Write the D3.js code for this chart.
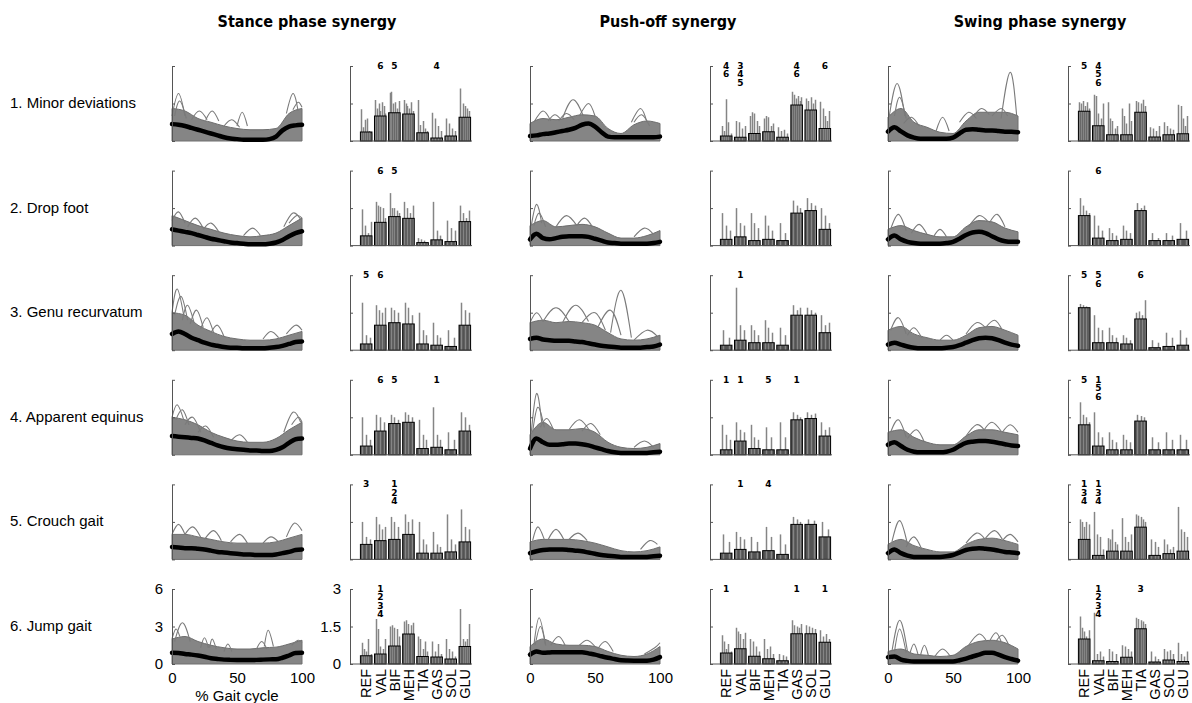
<!DOCTYPE html>
<html>
<head>
<meta charset="utf-8">
<script src="https://cdn.jsdelivr.net/npm/d3@7"></script>
<style>
  body { margin: 0; background: #fff; }
  svg { display: block; }
</style>
</head>
<body>
<svg id="chart" width="1192" height="703"></svg>
<script>
// ---- labels ----
var synergies = ["Stance phase synergy", "Push-off synergy", "Swing phase synergy"];
var rowNames = ["1. Minor deviations", "2. Drop foot", "3. Genu recurvatum",
                "4. Apparent equinus", "5. Crouch gait", "6. Jump gait"];
var muscles = ["REF", "VAL", "BIF", "MEH", "TIA", "GAS", "SOL", "GLU"];
var pctTicks = [0, 50, 100];
var lineTicks = [0, 3, 6];
var barTicks = [0, 1.5, 3];

// x positions (% gait cycle) of the mean curves and of the band envelope
var meanPct = [0,5,10,15,20,25,30,35,40,45,50,55,60,65,70,75,80,85,90,95,100];
var bandPct = [0,10,20,30,40,50,60,70,80,90,100];

// ---- mean activation curves (black), one per row ----
var stanceMean = [
  [1.35,1.3,1.2,1.05,0.9,0.75,0.6,0.45,0.3,0.2,0.15,0.1,0.1,0.1,0.1,0.15,0.35,0.85,1.15,1.25,1.3],
  [1.3,1.2,1.1,1.0,0.85,0.7,0.55,0.45,0.35,0.25,0.2,0.15,0.1,0.1,0.1,0.15,0.25,0.45,0.75,1.0,1.15],
  [1.3,1.5,1.3,1.0,0.8,0.6,0.45,0.35,0.25,0.2,0.2,0.15,0.15,0.15,0.15,0.2,0.25,0.35,0.5,0.65,0.7],
  [1.5,1.45,1.4,1.35,1.3,1.15,0.95,0.75,0.6,0.5,0.45,0.4,0.35,0.35,0.3,0.3,0.4,0.6,0.95,1.25,1.3],
  [1.0,0.95,0.9,0.9,0.85,0.8,0.7,0.6,0.55,0.5,0.45,0.4,0.4,0.35,0.35,0.35,0.4,0.5,0.6,0.75,0.8],
  [0.9,0.88,0.8,0.75,0.68,0.58,0.46,0.4,0.35,0.33,0.32,0.32,0.32,0.33,0.35,0.37,0.38,0.5,0.68,0.88,0.9]
];
var pushMean = [
  [0.4,0.45,0.55,0.6,0.7,0.8,0.9,1.05,1.3,1.4,1.15,0.7,0.35,0.3,0.3,0.3,0.3,0.3,0.3,0.3,0.35],
  [0.5,0.95,0.6,0.5,0.6,0.7,0.75,0.75,0.75,0.7,0.55,0.4,0.25,0.2,0.15,0.15,0.15,0.15,0.15,0.2,0.3],
  [0.9,1.0,0.85,0.8,0.75,0.75,0.75,0.7,0.65,0.55,0.45,0.35,0.3,0.25,0.2,0.2,0.2,0.2,0.25,0.3,0.45],
  [0.5,1.3,1.0,0.8,0.8,0.85,0.9,0.9,0.85,0.75,0.6,0.45,0.3,0.2,0.15,0.15,0.15,0.15,0.15,0.2,0.25],
  [0.5,0.65,0.75,0.8,0.8,0.8,0.75,0.7,0.65,0.55,0.45,0.35,0.3,0.25,0.2,0.2,0.2,0.2,0.2,0.25,0.3],
  [0.75,1.0,0.9,0.92,0.95,0.95,0.95,0.95,0.95,0.85,0.75,0.62,0.5,0.4,0.3,0.28,0.27,0.27,0.27,0.35,0.55]
];
var swingMean = [
  [0.75,1.1,0.77,0.45,0.27,0.18,0.18,0.18,0.18,0.18,0.27,0.6,0.9,0.95,0.9,0.85,0.85,0.8,0.75,0.75,0.7],
  [0.5,0.8,0.5,0.3,0.2,0.15,0.15,0.15,0.15,0.2,0.3,0.55,0.85,1.05,1.1,1.0,0.75,0.5,0.35,0.3,0.3],
  [0.45,0.6,0.45,0.3,0.2,0.15,0.15,0.15,0.15,0.2,0.25,0.4,0.6,0.8,0.95,1.0,0.95,0.8,0.6,0.45,0.35],
  [0.8,1.0,0.7,0.4,0.25,0.2,0.2,0.2,0.2,0.25,0.4,0.7,0.95,1.05,1.1,1.1,1.05,0.95,0.85,0.75,0.7],
  [0.5,0.8,0.5,0.3,0.2,0.2,0.2,0.2,0.2,0.25,0.35,0.55,0.75,0.85,0.9,0.85,0.8,0.7,0.6,0.55,0.5],
  [0.55,0.6,0.35,0.25,0.2,0.2,0.2,0.2,0.2,0.2,0.2,0.3,0.43,0.6,0.75,0.9,0.9,0.75,0.55,0.4,0.27]
];

// ---- upper edge of the dense bundle of subject curves ----
var stanceBand = [
  [2.6,2.4,1.8,1.5,1.2,1.0,0.9,0.9,1.0,2.2,2.6],
  [2.4,2.0,1.6,1.3,1.0,0.8,0.7,0.8,1.0,1.6,2.2],
  [3.0,2.8,2.0,1.5,1.1,0.9,0.8,0.8,0.9,1.2,1.5],
  [3.0,2.8,2.4,1.8,1.4,1.1,1.0,1.0,1.3,2.0,2.6],
  [2.0,2.0,1.8,1.6,1.4,1.3,1.3,1.3,1.4,1.7,2.0],
  [2.0,2.2,1.8,1.5,1.3,1.2,1.2,1.3,1.35,1.6,1.9]
];
var pushBand = [
  [1.4,1.8,1.7,1.9,2.1,2.0,1.0,0.6,1.3,1.6,1.4],
  [1.6,2.0,1.5,1.6,1.7,1.5,1.0,0.6,0.6,0.8,1.2],
  [2.2,2.4,2.2,2.3,2.2,2.0,1.4,0.9,0.8,0.9,1.2],
  [1.6,2.6,2.0,2.0,2.1,1.8,1.0,0.6,0.5,0.6,0.9],
  [1.4,1.6,1.6,1.6,1.5,1.3,1.0,0.7,0.6,0.7,1.0],
  [1.4,2.0,1.6,1.5,1.5,1.4,1.0,0.7,0.6,0.8,1.4]
];
var swingBand = [
  [1.9,2.6,1.5,1.1,0.7,0.6,1.6,2.3,2.3,2.3,2.0],
  [1.3,1.6,1.2,0.9,0.7,0.7,1.5,2.0,1.9,1.4,1.1],
  [1.6,1.9,1.3,1.0,0.8,0.8,1.2,1.8,1.9,1.6,1.2],
  [1.8,2.0,1.4,1.0,0.8,0.8,1.5,2.0,2.0,1.8,1.6],
  [1.2,1.6,1.1,0.8,0.6,0.6,1.2,1.6,1.7,1.5,1.2],
  [1.0,1.2,0.8,0.7,0.6,0.7,1.4,1.8,1.9,1.7,1.2]
];

// ---- single subject curves that stick out of the bundle: [x0,y0, xPeak,yPeak, x1,y1] ----
var stancePeaks = [
  [[0,2,5,3.8,10,2],[2,2,6,3.2,11,1.8],[15,1.7,21,2.4,27,1.7],[26,1.7,31,2.4,36,1.6],[40,1.2,46,1.7,52,1.1],[50,1.2,54,2.3,58,1.2],[88,2.2,93,3.8,97,2.4],[93,2.5,97,3.1,100,2.7]],
  [[0,2,5,2.7,10,1.8],[12,1.5,18,2.2,24,1.4],[24,1.3,30,1.8,36,1.1],[55,0.8,62,1.4,68,0.8],[86,1.5,93,2.6,99,2.1],[90,1.8,96,2.4,100,2.2]],
  [[0,3,4,4.9,9,2.8],[2,2.8,7,4.3,12,2.4],[8,2.4,12,3.6,17,2.2],[14,2.1,19,3.2,24,1.8],[22,1.7,27,2.6,32,1.4],[30,1.4,35,2.0,40,1.1],[70,0.9,76,1.5,82,1.0],[88,1.3,95,2.0,100,1.6]],
  [[0,3,4,4.0,9,2.8],[3,2.8,8,3.6,13,2.4],[10,2.4,16,3.0,22,1.8],[20,1.8,26,2.3,32,1.4],[45,1.1,52,1.6,58,1.0],[86,1.8,93,3.4,99,2.6],[92,2.4,97,3.0,100,2.6]],
  [[0,2,5,2.8,10,2],[10,2,16,2.6,22,1.8],[25,1.6,32,2.3,38,1.5],[45,1.4,52,2.0,58,1.3],[70,1.3,76,1.8,82,1.4],[88,1.8,94,2.9,100,2.3]],
  [[0,2,3,2.8,6,2.2],[2,1.8,8,3.3,14,1.8],[22,1.3,25,2.1,28,1.3],[29,1.3,31,2.0,34,1.2],[40,1.0,43,1.6,46,1.0],[65,1.2,69,1.8,73,1.2],[71,1.4,74,2.7,78,1.4],[92,1.5,97,1.9,100,1.7]]
];
var pushPeaks = [
  [[3,1.5,10,2.4,16,1.6],[14,1.6,19,2.1,24,1.7],[22,1.6,28,2.2,34,1.7],[25,1.8,33,3.3,41,2.0],[38,2.0,45,3.0,50,2.0],[78,1.5,85,2.6,90,1.5],[80,1.5,86,2.1,92,1.2]],
  [[1,1.6,5,3.3,9,1.8],[3,1.6,7,2.6,12,1.5],[20,1.5,28,2.4,36,1.6],[36,1.6,42,2.2,48,1.5],[80,0.7,88,1.4,95,0.9]],
  [[0,2.2,5,3.0,10,2.3],[10,2.3,20,3.4,30,2.3],[25,2.2,35,3.6,45,2.3],[40,2.2,50,3.0,58,1.6],[52,1.8,62,3.2,70,1.2],[62,1.4,70,4.8,78,1.0],[80,0.8,90,1.6,98,1.1]],
  [[1,1.8,5,4.9,9,2.6],[2,1.8,6,3.8,11,2.2],[8,2.2,13,2.9,18,2.0],[30,2.0,38,2.8,46,1.9],[40,1.9,47,2.5,54,1.6],[80,0.6,88,1.1,95,0.6]],
  [[2,1.5,6,2.6,11,1.6],[14,1.6,20,2.4,26,1.6],[30,1.6,37,2.1,44,1.5],[85,0.8,92,1.5,98,1.2]],
  [[3,1.5,7,3.7,12,1.5],[4,1.5,8,3.0,12,1.5],[16,1.5,22,2.2,27,1.5],[38,1.5,44,1.9,50,1.4],[52,1.2,58,1.8,64,1.0],[88,0.8,96,1.3,100,1.7]]
];
var swingPeaks = [
  [[1,2,7,4.6,13,2],[5,2,9,3.5,14,1.8],[12,1.4,18,1.9,24,1.2],[37,0.8,42,1.9,47,0.8],[55,1.5,62,2.3,68,1.8],[66,2,72,2.6,78,2.1],[80,2,87,2.6,92,2],[87,1.8,94,5.5,99,2]],
  [[2,1.3,8,2.5,14,1.2],[18,1.0,24,1.7,30,0.9],[35,0.7,40,1.3,45,0.7],[62,1.5,70,2.4,77,1.9],[78,1.8,84,2.5,90,1.5]],
  [[2,1.6,8,2.6,14,1.3],[15,1.2,20,1.8,26,1.0],[40,0.8,45,1.2,50,0.8],[60,1.3,68,2.2,75,1.8],[75,1.8,82,2.4,88,1.6]],
  [[2,1.8,8,2.8,14,1.4],[15,1.3,22,2.0,28,1.0],[60,1.5,68,2.4,74,2.0],[74,2.0,80,2.6,87,1.9],[88,1.8,94,2.4,100,1.8]],
  [[3,1.4,9,3.1,15,1.2],[14,1.0,20,1.8,26,0.8],[60,1.3,68,2.1,74,1.7],[75,1.7,82,2.3,88,1.6],[88,1.5,94,2.0,100,1.4]],
  [[3,1.0,9,3.5,15,1.0],[5,1.0,9,2.8,14,0.9],[17,0.9,20,1.6,23,0.8],[25,0.7,28,1.5,31,0.7],[36,0.6,42,1.2,48,0.6],[62,1.5,70,2.4,76,1.8],[78,1.8,83,2.5,87,1.8],[83,1.8,88,2.3,93,1.5]]
];

// ---- muscle weights: group mean (bar) per row ----
var stanceBars = [
  [0.36,1.0,1.13,1.08,0.33,0.12,0.2,0.95],
  [0.39,0.93,1.16,1.09,0.12,0.23,0.16,0.96],
  [0.25,1.0,1.1,1.05,0.25,0.2,0.15,1.0],
  [0.35,0.95,1.25,1.3,0.25,0.3,0.2,0.95],
  [0.6,0.75,0.8,1.0,0.25,0.25,0.3,0.7],
  [0.33,0.4,0.72,1.2,0.3,0.28,0.2,0.7]
];
var pushBars = [
  [0.2,0.15,0.3,0.37,0.15,1.44,1.24,0.5],
  [0.25,0.35,0.2,0.25,0.2,1.3,1.4,0.65],
  [0.2,0.4,0.3,0.3,0.2,1.4,1.4,0.7],
  [0.2,0.55,0.25,0.2,0.2,1.4,1.45,0.75],
  [0.25,0.4,0.3,0.35,0.2,1.4,1.4,0.9],
  [0.44,0.61,0.31,0.21,0.13,1.21,1.21,0.87]
];
var swingBars = [
  [1.19,0.61,0.25,0.25,1.15,0.16,0.25,0.29],
  [1.2,0.3,0.2,0.25,1.4,0.2,0.2,0.25],
  [1.7,0.3,0.3,0.25,1.25,0.1,0.15,0.2],
  [1.2,0.35,0.2,0.2,1.35,0.2,0.2,0.2],
  [0.8,0.16,0.33,0.33,1.29,0.16,0.23,0.33],
  [1.0,0.13,0.1,0.27,1.41,0.08,0.16,0.1]
];

// ---- muscle weights of single subjects (thin grey lines) ----
var stanceSubj = [
  [[1.27,0.55,0.85,0.9,0.4,0.3],[1.64,1.3,1.5,1.2,1.55,1.4,1.1],[1.93,1.97,1.5,1.55,1.3,1.6],[1.64,1.5,1.4,1.3,1.55,1.2],[1.64,0.64,0.8,0.5,0.4],[1.13,0.9,0.6,0.4],[0.9,0.7,0.5,0.4],[2.1,1.5,1.4,1.3,1.2]],
  [[1.45,0.8,0.5,0.95],[1.75,1.6,1.55,1.5,1.1],[2.1,1.5,1.5,1.4,1.3],[1.75,1.5,1.3,1.6],[0.3,0.25,0.2,0.1],[1.75,0.6,0.4],[1.0,0.7,0.6],[1.6,1.3,1.1,1.4]],
  [[1.9,0.6,0.5],[1.8,1.6,1.5,1.7],[1.7,1.6,1.5],[1.9,1.7,1.4],[1.5,0.8,0.6],[1.1,0.6,0.5],[0.8,0.5],[1.9,1.6,1.5]],
  [[1.5,0.8,0.6],[1.6,1.5,1.3],[1.6,1.5,1.4],[1.7,1.6,1.5],[1.4,0.8,0.6],[1.9,0.8,0.6],[0.9,0.6],[1.7,1.5,1.2]],
  [[1.5,0.9,0.8],[1.7,1.4,1.2,1.3],[1.7,1.5,1.3],[1.8,1.5,1.6],[1.5,0.8,0.6],[1.1,0.6,0.5],[1.8,0.8,0.6],[2.0,1.3,1.2]],
  [[0.85,0.6,0.5,1.0,0.4],[1.8,1.4,0.7,0.6,1.0],[1.5,1.55,1.45,1.4,1.1],[1.7,1.75,1.6,1.55,1.65],[1.1,1.0,0.6,0.9,0.5],[0.9,0.5,0.8,0.4],[1.0,0.6,0.5,0.3],[2.2,1.0,0.9,1.0,1.6]]
];
var pushSubj = [
  [[0.6,0.4,1.67,0.75,0.3],[0.8,0.75,0.5,0.6],[1.0,1.15,1.1,0.8,0.6],[0.9,1.0,0.95,0.6,0.7],[0.55,0.4,0.45,0.3],[1.97,1.85,1.7,1.8,1.6,1.75],[1.7,1.6,1.75,1.5,1.65],[1.57,1.3,1.0,0.8,1.2]],
  [[1.3,0.8,0.6],[1.5,0.9,0.8],[1.3,0.9,0.7],[1.2,0.8,0.6],[0.9,0.5],[1.8,1.6,1.5],[1.9,1.7,1.6],[1.5,1.2,0.9]],
  [[0.8,0.5],[2.5,1.0,0.8],[1.0,0.8,0.6],[1.2,0.9,0.7],[0.9,0.6],[1.8,1.6,1.7],[1.7,1.6,1.5],[1.4,1.0,1.1]],
  [[1.2,0.8,0.6],[1.3,1.0,0.9],[1.2,0.7,0.6],[1.1,0.7],[1.3,0.7],[1.7,1.6,1.5],[1.7,1.6,1.65],[1.3,1.0,1.1]],
  [[1.0,0.7],[1.1,0.9,0.8],[0.9,0.7],[1.3,0.9],[1.0,0.6],[1.7,1.6,1.5],[1.6,1.55],[1.5,1.2]],
  [[1.15,0.9,0.6,0.8,0.5],[1.45,1.3,1.2,1.0,1.25],[1.0,0.9,0.7,0.5],[1.0,0.6,0.7,0.4],[0.4,0.35,0.3],[1.75,1.55,1.5,1.45,1.6],[1.55,1.5,1.45,1.4],[1.35,1.1,1.2,1.0]]
];
var swingSubj = [
  [[1.55,1.5,1.6,1.4,1.55,1.3],[1.85,1.8,1.1,0.9,1.5],[1.55,0.9,0.8,0.5,0.6],[1.3,1.0,0.7,1.5,0.8],[1.6,1.55,1.5,1.65,1.4],[0.55,0.5,0.4,0.6],[0.75,0.6,0.5,0.45],[1.45,1.4,0.9,0.6,1.0]],
  [[1.9,1.6,1.4,1.3],[1.2,0.8,0.6],[0.7,0.5,0.4],[0.8,0.6,0.5],[1.7,1.5,1.6],[0.5,0.3],[0.5,0.4],[0.9,0.6]],
  [[1.85,1.8,1.75,1.7],[1.4,0.9,0.8],[0.9,0.6,0.5],[0.6,0.5,0.4],[1.5,1.55,1.4,2.0],[0.4,0.3],[0.7,0.5],[0.8,0.5]],
  [[2.1,1.6,1.5,1.3],[1.7,0.9,0.7],[0.9,0.6,0.5],[0.8,0.6,0.5],[1.6,1.55,1.5],[0.7,0.5],[0.9,0.6],[0.8,0.6]],
  [[1.6,1.5,1.3,1.5,1.4],[1.9,1.0,0.9,0.4],[0.85,0.8,1.2,0.7,0.6],[1.65,0.9,0.7,1.0],[1.8,1.75,1.7,1.6,1.5],[0.8,0.7,0.5],[0.8,0.6,0.4,0.5],[2.1,1.2,1.1,0.9]],
  [[1.9,1.45,1.3,1.1,1.35],[2.05,0.4,0.5,0.3],[0.6,0.5,0.4],[0.75,0.7,0.6,0.5],[1.85,1.8,1.75,1.7,1.6],[0.5,0.3,0.2],[0.6,0.5,0.55,0.4],[0.85,0.4,0.3,0.5]]
];

// ---- significance notes above the bars: [muscle index, text] ----
var stanceNotes = [
  [[1,"6"],[2,"5"],[5,"4"]],
  [[1,"6"],[2,"5"]],
  [[0,"5"],[1,"6"]],
  [[1,"6"],[2,"5"],[5,"1"]],
  [[0,"3"],[2,"1\n2\n4"]],
  [[1,"1\n2\n3\n4"]]
];
var pushNotes = [
  [[0,"4\n6"],[1,"3\n4\n5"],[5,"4\n6"],[7,"6"]],
  [],
  [[1,"1"]],
  [[0,"1"],[1,"1"],[3,"5"],[5,"1"]],
  [[1,"1"],[3,"4"]],
  [[0,"1"],[5,"1"],[7,"1"]]
];
var swingNotes = [
  [[0,"5"],[1,"4\n5\n6"]],
  [[1,"6"]],
  [[0,"5"],[1,"5\n6"],[4,"6"]],
  [[0,"5"],[1,"1\n5\n6"]],
  [[0,"1\n3\n4"],[1,"1\n3\n4"]],
  [[1,"1\n2\n3\n4"],[4,"3"]]
];

// ---- layout ----
var lineX0 = [172, 530, 888];
var barX0 = [350, 710, 1068];
var titleX = [307, 668, 1040];
var lineW = 130, barW = 122, panelH = 75;
var rowTop = function (r) { return 66 + r * 104.6; };
var FONT = "'Liberation Sans', Arial, sans-serif";

var svg = d3.select("#chart");

var columns = [
  { mean: stanceMean, band: stanceBand, peaks: stancePeaks, bars: stanceBars, subj: stanceSubj, notes: stanceNotes },
  { mean: pushMean,   band: pushBand,   peaks: pushPeaks,   bars: pushBars,   subj: pushSubj,   notes: pushNotes },
  { mean: swingMean,  band: swingBand,  peaks: swingPeaks,  bars: swingBars,  subj: swingSubj,  notes: swingNotes }
];

// titles
svg.selectAll("text.title").data(synergies).enter().append("text")
    .attr("class", "title")
    .attr("x", function (d, i) { return titleX[i]; })
    .attr("y", 27)
    .attr("text-anchor", "middle")
    .style("font-family", "'DejaVu Sans Condensed', 'DejaVu Sans', sans-serif")
    .style("font-weight", "bold")
    .style("font-size", "16px")
    .text(function (d) { return d; });

// row labels
svg.selectAll("text.rowlab").data(rowNames).enter().append("text")
    .attr("class", "rowlab")
    .attr("x", 10)
    .attr("y", function (d, i) { return rowTop(i) + 42; })
    .style("font-family", FONT)
    .style("font-size", "15px")
    .text(function (d) { return d; });

function styleAxis(g) {
    g.select(".domain").attr("stroke", "#555").attr("stroke-width", 1);
    g.selectAll(".tick line").attr("stroke", "#555");
    g.selectAll(".tick text").style("font-family", FONT).style("font-size", "15px").attr("fill", "#000");
}

columns.forEach(function (col, c) {
    for (var r = 0; r < 6; r++) {
        var top = rowTop(r), bottom = top + panelH;
        var lastRow = r === 5;

        // ---------- line panel ----------
        var x = d3.scaleLinear().domain([0, 100]).range([lineX0[c], lineX0[c] + lineW]);
        var y = d3.scaleLinear().domain([0, 6]).range([bottom, top]);
        var gl = svg.append("g");

        var band = d3.area()
            .x(function (d, i) { return x(bandPct[i]); })
            .y0(y(0))
            .y1(function (d) { return y(d); })
            .curve(d3.curveMonotoneX);
        gl.append("path").datum(col.band[r])
            .attr("d", band)
            .attr("fill", "#858585")
            .attr("stroke", "#6e6e6e")
            .attr("stroke-width", 1);

        var peakLine = d3.line()
            .x(function (d) { return x(d[0]); })
            .y(function (d) { return y(d[1]); })
            .curve(d3.curveNatural);
        gl.selectAll("path.peak").data(col.peaks[r]).enter().append("path")
            .attr("class", "peak")
            .attr("d", function (p) { return peakLine([[p[0], p[1]], [p[2], p[3]], [p[4], p[5]]]); })
            .attr("fill", "none")
            .attr("stroke", "#7a7a7a")
            .attr("stroke-width", 1.1);

        var meanLine = d3.line()
            .x(function (d, i) { return x(meanPct[i]); })
            .y(function (d) { return y(d); })
            .curve(d3.curveMonotoneX);
        gl.append("path").datum(col.mean[r])
            .attr("d", meanLine)
            .attr("fill", "none")
            .attr("stroke", "#000")
            .attr("stroke-width", 4.5)
            .attr("stroke-linecap", "round");

        var yAxis = d3.axisLeft(y).tickValues(lineTicks).tickSize(-3).tickSizeOuter(0).tickPadding(9)
            .tickFormat(d3.format("~g"));
        if (!(lastRow && c === 0)) yAxis.tickFormat("");
        gl.append("g").attr("transform", "translate(" + lineX0[c] + ",0)").call(yAxis).call(styleAxis);

        if (lastRow) {
            var xAxis = d3.axisBottom(x).tickValues(pctTicks).tickSize(0).tickPadding(8);
            var gx = gl.append("g").attr("transform", "translate(0," + bottom + ")").call(xAxis).call(styleAxis);
            gx.select(".domain").remove();
            if (c === 0) {
                gl.append("text")
                    .attr("x", x(50)).attr("y", 701)
                    .attr("text-anchor", "middle")
                    .style("font-family", FONT).style("font-size", "15px")
                    .text("% Gait cycle");
            }
        }

        // ---------- bar panel ----------
        var xb = d3.scaleBand().domain(muscles)
            .range([barX0[c] + 9, barX0[c] + barW])
            .paddingInner(0.18).paddingOuter(0.1);
        var yb = d3.scaleLinear().domain([0, 3]).range([bottom, top]);
        var bw = xb.bandwidth();
        var gb = svg.append("g");
        var barData = muscles.map(function (m, i) {
            return { m: m, v: col.bars[r][i], subj: col.subj[r][i] };
        });

        gb.selectAll("rect.fill").data(barData).enter().append("rect")
            .attr("class", "fill")
            .attr("x", function (d) { return xb(d.m); })
            .attr("y", function (d) { return yb(d.v); })
            .attr("width", bw)
            .attr("height", function (d) { return yb(0) - yb(d.v); })
            .attr("fill", "#535353");

        barData.forEach(function (d) {
            var n = d.subj.length;
            gb.selectAll(null).data(d.subj).enter().append("line")
                .attr("x1", function (v, k) { return Math.round(xb(d.m) + (k + 0.5) * bw / n) + 0.5; })
                .attr("x2", function (v, k) { return Math.round(xb(d.m) + (k + 0.5) * bw / n) + 0.5; })
                .attr("y1", yb(0))
                .attr("y2", function (v) { return yb(v); })
                .attr("stroke", "#858585")
                .attr("stroke-width", 1.5);
        });

        gb.selectAll("rect.edge").data(barData).enter().append("rect")
            .attr("class", "edge")
            .attr("x", function (d) { return xb(d.m); })
            .attr("y", function (d) { return yb(d.v); })
            .attr("width", bw)
            .attr("height", function (d) { return yb(0) - yb(d.v); })
            .attr("fill", "none")
            .attr("stroke", "#000")
            .attr("stroke-width", 1);

        gb.append("line")
            .attr("x1", barX0[c]).attr("x2", barX0[c] + barW)
            .attr("y1", yb(0)).attr("y2", yb(0))
            .attr("stroke", "#555");

        var yAxisB = d3.axisLeft(yb).tickValues(barTicks).tickSize(-3).tickSizeOuter(0).tickPadding(9)
            .tickFormat(d3.format("~g"));
        if (!(lastRow && c === 0)) yAxisB.tickFormat("");
        gb.append("g").attr("transform", "translate(" + barX0[c] + ",0)").call(yAxisB).call(styleAxis);

        // notes
        col.notes[r].forEach(function (nt) {
            var cx = xb(muscles[nt[0]]) + bw / 2;
            var lines = nt[1].split("\n");
            gb.selectAll(null).data(lines).enter().append("text")
                .attr("x", cx)
                .attr("y", function (s, k) { return top + 3 + k * 8.4; })
                .attr("text-anchor", "middle")
                .style("font-family", "'DejaVu Sans', sans-serif")
                .style("font-weight", "bold")
                .style("font-size", "9px")
                .text(function (s) { return s; });
        });

        if (lastRow) {
            gb.selectAll("text.mus").data(muscles).enter().append("text")
                .attr("class", "mus")
                .attr("transform", function (m) { return "translate(" + (xb(m) + bw / 2) + "," + (bottom + 5) + ") rotate(-90)"; })
                .attr("text-anchor", "end")
                .attr("dy", "0.36em")
                .style("font-family", FONT)
                .style("font-size", "14.5px")
                .text(function (m) { return m; });
        }
    }
});
</script>
</body>
</html>
